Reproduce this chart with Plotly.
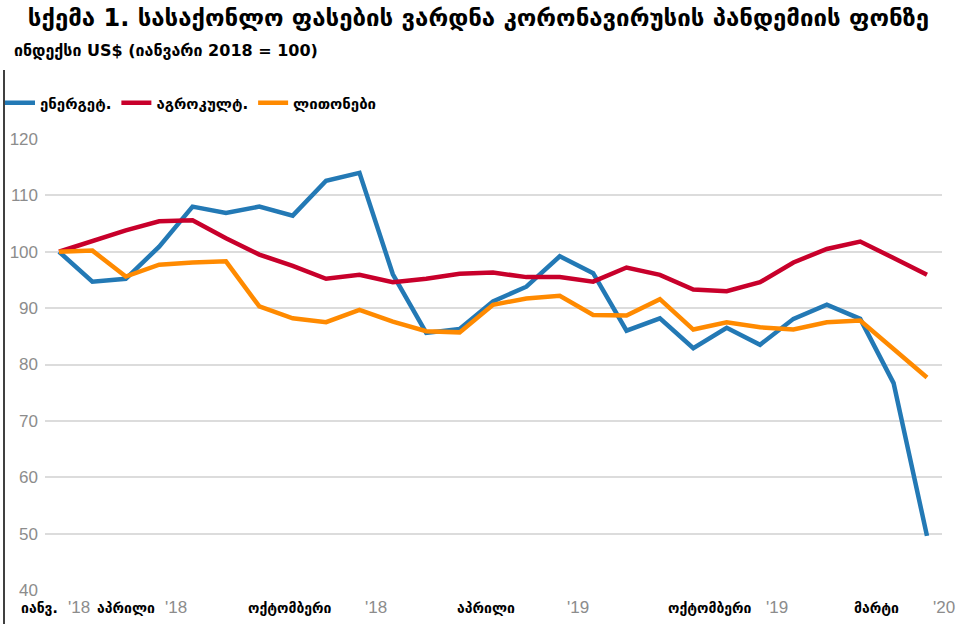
import plotly.graph_objects as go

months = list(range(27))  # Jan 2018 .. Mar 2020, monthly index
energy = [100, 94.7, 95.2, 100.9, 108.0, 106.9, 108.0, 106.4, 112.6, 114.0, 96.0, 85.6,
          86.3, 91.2, 93.8, 99.2, 96.2, 86.0, 88.2, 82.9, 86.5, 83.5, 88.1, 90.6, 88.1, 76.7, 49.6]
agro = [100, 102.0, 103.8, 105.4, 105.6, 102.4, 99.5, 97.5, 95.2, 95.9, 94.6, 95.2,
        96.1, 96.3, 95.5, 95.5, 94.7, 97.2, 95.9, 93.3, 93.0, 94.6, 98.1, 100.5, 101.8, 98.9, 95.9]
metals = [100, 100.2, 95.6, 97.7, 98.1, 98.3, 90.3, 88.2, 87.5, 89.7, 87.6, 85.9,
          85.7, 90.6, 91.7, 92.2, 88.8, 88.7, 91.6, 86.2, 87.5, 86.6, 86.2, 87.5, 87.8, 82.7, 77.7]

series_names = ["ენერგეტ.", "აგროკულტ.", "ლითონები"]
series_colors = ["#2379b5", "#c8002b", "#ff8a00"]

month_labels = ["იანვ.", "აპრილი", "ოქტომბერი", "აპრილი", "ოქტომბერი", "მარტი"]
month_pos = [-0.57, 2.0, 6.92, 12.8, 19.5, 24.5]
year_labels = ["'18", "'18", "'18", "'19", "'19", "'20"]
year_pos = [0.6, 3.5, 9.5, 15.55, 21.5, 26.5]

title = "სქემა 1. სასაქონლო ფასების ვარდნა კორონავირუსის პანდემიის ფონზე"
subtitle = "ინდექსი US$ (იანვარი 2018 = 100)"

GEO = "DejaVu Sans"
NUM = "Liberation Sans, Arial, sans-serif"
XMIN, XMAX = -0.42, 26.45

fig = go.Figure()
for name, vals, col in zip(series_names, [energy, agro, metals], series_colors):
    fig.add_trace(go.Scatter(x=months, y=vals, mode="lines", name="<b>" + name + "</b>",
                             line=dict(color=col, width=4.5)))

def px(i):
    return (i - XMIN) / (XMAX - XMIN)

annotations = [dict(text="<b>" + subtitle + "</b>", xref="paper", yref="paper", x=(12 - 45) / 897,
                    y=(590 - 50) / 451, xanchor="left", yanchor="middle", showarrow=False,
                    font=dict(family=GEO, size=16, color="#000"))]
for lab, p in zip(month_labels, month_pos):
    annotations.append(dict(text="<b>" + lab + "</b>", xref="paper", yref="paper", x=px(p), y=0,
                            yshift=-18, xanchor="center", yanchor="middle", showarrow=False,
                            font=dict(family=GEO, size=14, color="#000")))
for lab, p in zip(year_labels, year_pos):
    annotations.append(dict(text=lab, xref="paper", yref="paper", x=px(p), y=0,
                            yshift=-17, xanchor="center", yanchor="middle", showarrow=False,
                            font=dict(family=NUM, size=17, color="#8c8c8c")))

fig.update_layout(
    width=957, height=624,
    margin=dict(l=45, r=15, t=139, b=34, autoexpand=False),
    paper_bgcolor="white", plot_bgcolor="white",
    title=dict(text="<b>" + title + "</b>", x=0.5, xanchor="center", y=0.985, yanchor="top",
               font=dict(family=GEO, size=24, color="#000")),
    showlegend=True,
    legend=dict(orientation="h", x=(0 - 45) / 897, xanchor="left", y=(590 - 103) / 451,
                yanchor="middle", font=dict(family=GEO, size=15, color="#000"),
                itemwidth=30, tracegroupgap=0, bgcolor="rgba(0,0,0,0)"),
    xaxis=dict(range=[XMIN, XMAX], showgrid=False, showticklabels=False, zeroline=False,
               showline=False, ticks=""),
    yaxis=dict(range=[40, 120], tickvals=[40, 50, 60, 70, 80, 90, 100, 110, 120],
               showgrid=True, gridcolor="#dcdcdc", gridwidth=1.5, zeroline=False,
               showline=False, ticks="", ticklabelstandoff=6,
               tickfont=dict(family=NUM, size=17, color="#8c8c8c")),
    annotations=annotations,
    shapes=[dict(type="line", xref="paper", yref="paper", x0=(4 - 45) / 897, x1=(4 - 45) / 897,
                 y0=(590 - 624) / 451, y1=(590 - 70) / 451, line=dict(color="#000", width=1.5))],
)

fig.write_html("out.html", config={"displayModeBar": False},
               post_script="document.body.style.margin='0';")
